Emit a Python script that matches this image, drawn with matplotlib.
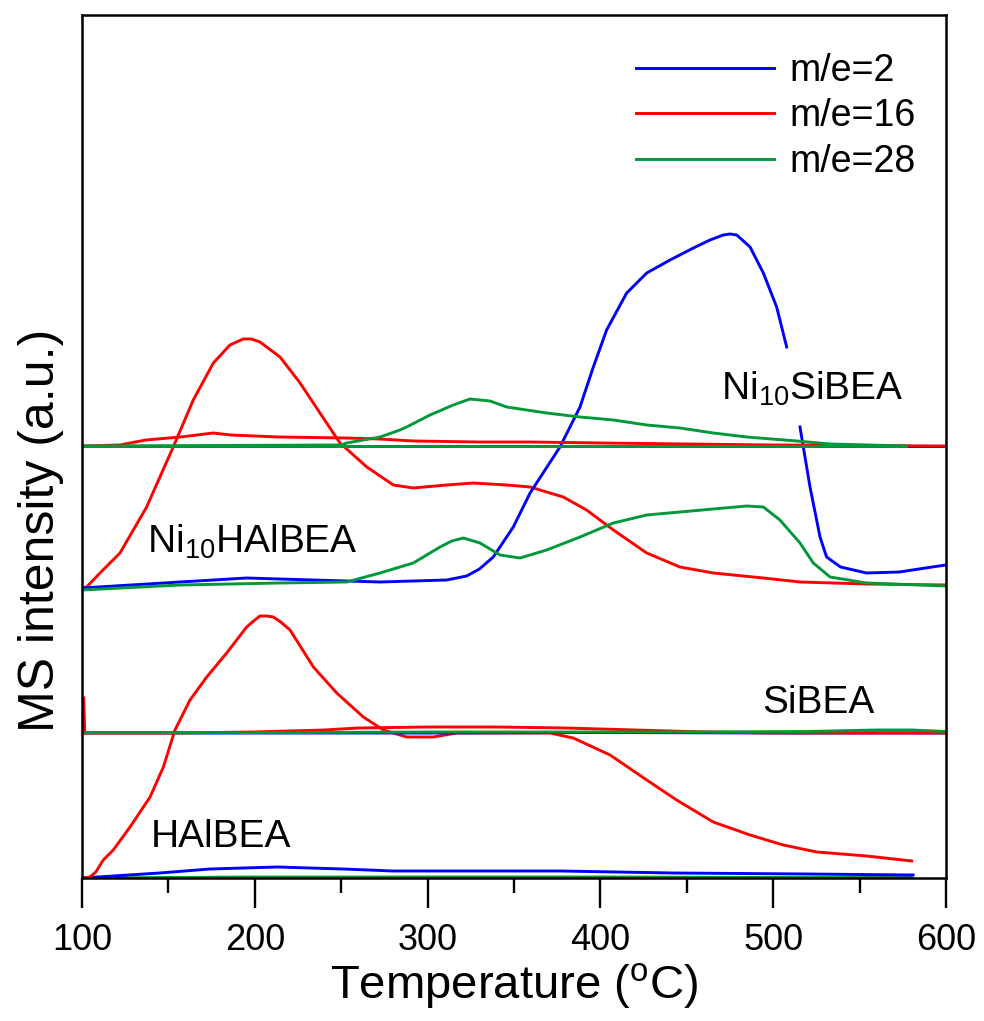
import numpy as np
import matplotlib
matplotlib.use('Agg')
import matplotlib.pyplot as plt
from matplotlib.ticker import MultipleLocator

plt.rcParams['font.family'] = ['Liberation Sans', 'DejaVu Sans']
plt.rcParams['mathtext.fontset'] = 'custom'
plt.rcParams['mathtext.rm'] = 'Liberation Sans'

BLUE = '#0000ff'
RED = '#ff0000'
GREEN = '#00993a'

# vertical offsets of the stacked samples (a.u.)
offsets = {'HAlBEA': 0, 'SiBEA': 145, 'Ni10HAlBEA': 290, 'Ni10SiBEA': 432}

# ---- HAlBEA ----
hal_red_t = [100, 104.6, 108, 112.3, 118.1, 127.8, 139.4, 147.1, 153.8, 162.5, 172.2, 183.7, 195.3, 200, 203,
             207, 210.7, 215, 220.4, 233.9, 247.4, 262.8, 274.4, 287.9, 303.3, 316.8, 340, 370.8, 384.3,
             405.6, 426.8, 444.1, 465.3, 486.6, 505.8, 525.2, 554.1, 580.1]
hal_red_v = [0, 1, 6, 18, 28, 51, 81, 111, 148, 178, 201, 225, 251, 258, 262,
             262, 261, 256, 248, 211, 185, 161, 148, 141, 141, 145, 145, 145, 140,
             123, 98, 78, 56, 43, 33, 26, 22, 17]
hal_blue_t = [100, 145, 174, 213, 251, 280, 377, 442, 519, 581]
hal_blue_v = [0, 5, 9, 11, 9, 7, 7, 5, 4, 3]
hal_green_t = [100, 200, 300, 400, 500, 580]
hal_green_v = [0, 1, 1, 1, 0.5, 0.5]

# ---- SiBEA ----
si_red_t = [101, 101.6, 150, 200, 240, 260, 300, 340, 380, 420, 460, 500, 600]
si_red_v = [35, 0, 0, 1, 3, 5, 6, 6, 5, 3, 1, 0, 0]
si_blue_t = [100, 200, 300, 400, 500, 600]
si_blue_v = [0, 0, 0, 0.5, 0, 0]
si_green_t = [100, 200, 300, 450, 520, 560, 580, 600]
si_green_v = [0.3, 0.3, 1, 1, 1.5, 3, 3, 1.5]

# ---- Ni10HAlBEA ----
nh_red_t = [100, 102.7, 110.4, 122, 137.4, 152.8, 164.4, 176, 185.6, 193.3, 198, 203, 214.6, 226.2, 237.7,
            249.3, 264.8, 280.2, 291.7, 311, 326.4, 345.8, 359.3, 378.5, 392, 407.5, 426.8, 446,
            465.3, 494.3, 515.5, 554.1, 600]
nh_red_v = [0, 1, 15, 35, 81, 141, 188, 225, 243, 249, 249, 246, 231, 205, 175,
            145, 121, 103, 100, 103, 105, 103, 101, 91, 78, 58, 35, 21,
            15, 10, 6, 4, 3]
nh_blue_t = [100, 156.7, 195.3, 233.9, 272.5, 311, 322.6, 330, 338, 349.6, 359.3, 376.6, 388.2, 395.9,
             403.6, 415.2, 426.8, 440.3, 453.8, 463.4, 471.1, 475, 478.9, 486.6, 494.3, 502, 507.8, np.nan,
             515.5, 521.3, 527.1, 530.9, 539, 554, 573, 592, 600]
nh_blue_v = [0, 6, 10, 8, 6, 8, 12, 19, 31, 61, 95, 141, 181, 221,
             258, 295, 315, 328, 340, 348, 353, 354, 353, 341, 315, 281, 241, np.nan,
             161, 101, 51, 31, 21, 15, 16, 21, 23]
nh_green_t = [100, 156.7, 214.6, 253.2, 272.5, 291.7, 307.2, 314, 320.7, 330.3, 341.9, 353.5, 368.9, 388.2,
              407.5, 426.8, 446, 465.3, 484.7, 494.3, 503.9, 515.5, 523.2, 532.9, 554.1, 600]
nh_green_v = [-2, 3, 5, 6, 15, 25, 41, 47, 50, 45, 33, 30, 38, 51,
              65, 73, 76, 79, 82, 81, 68, 45, 25, 11, 5, 2]

# ---- Ni10SiBEA ----
ns_red_t = [100, 122, 137, 157, 176, 186, 214, 253, 272, 292, 330, 359, 400, 450, 500, 600]
ns_red_v = [0, 1, 6, 9, 13, 11, 9, 8, 7, 5, 4, 4, 3, 2, 1, 0]
ns_blue_t = [100, 200, 300, 400, 500, 600]
ns_blue_v = [0, 0, 0, 0, 0, 0]
ns_green_t = [100, 250, 253.2, 272.5, 284, 287.9, 301.4, 314.9, 324.5, 336.1, 345.8, 368.9, 388.2, 407.5,
              426.8, 446, 465.3, 484.7, 513.6, 532.9, 577]
ns_green_v = [0, 1, 3, 9, 16, 19, 31, 41, 47, 45, 39, 33, 29, 26,
              21, 18, 13, 9, 5, 2, 0]
ns_green_base_t = [100, 577]
ns_green_base_v = [0.3, 0.3]


def shifted(values, sample):
    return np.array(values, dtype=float) + offsets[sample]


def main():
    fig = plt.figure(figsize=(9.84, 10.21), dpi=100)
    ax = fig.add_axes([82 / 984, 143 / 1021, 864 / 984, 863 / 1021])
    lw = 2.1

    # HAlBEA
    ax.plot(hal_green_t, shifted(hal_green_v, 'HAlBEA'), color=GREEN, lw=lw)
    ax.plot(hal_blue_t, shifted(hal_blue_v, 'HAlBEA'), color=BLUE, lw=lw)
    ax.plot(hal_red_t, shifted(hal_red_v, 'HAlBEA'), color=RED, lw=lw)
    # SiBEA
    ax.plot(si_blue_t, shifted(si_blue_v, 'SiBEA'), color=BLUE, lw=lw)
    ax.plot(si_red_t, shifted(si_red_v, 'SiBEA'), color=RED, lw=lw)
    ax.plot(si_green_t, shifted(si_green_v, 'SiBEA'), color=GREEN, lw=lw)
    # Ni10HAlBEA
    ax.plot(nh_red_t, shifted(nh_red_v, 'Ni10HAlBEA'), color=RED, lw=lw)
    ax.plot(nh_blue_t, shifted(nh_blue_v, 'Ni10HAlBEA'), color=BLUE, lw=lw)
    ax.plot(nh_green_t, shifted(nh_green_v, 'Ni10HAlBEA'), color=GREEN, lw=lw)
    # Ni10SiBEA
    ax.plot(ns_blue_t, shifted(ns_blue_v, 'Ni10SiBEA'), color=BLUE, lw=lw)
    ax.plot(ns_red_t, shifted(ns_red_v, 'Ni10SiBEA'), color=RED, lw=lw)
    ax.plot(ns_green_base_t, shifted(ns_green_base_v, 'Ni10SiBEA'), color=GREEN, lw=lw)
    ax.plot(ns_green_t, shifted(ns_green_v, 'Ni10SiBEA'), color=GREEN, lw=lw)

    # legend handles
    h1, = ax.plot([], [], color=BLUE, lw=lw, label='m/e=2')
    h2, = ax.plot([], [], color=RED, lw=lw, label='m/e=16')
    h3, = ax.plot([], [], color=GREEN, lw=lw, label='m/e=28')
    ax.legend(handles=[h1, h2, h3], loc='upper left', bbox_to_anchor=(0.641, 0.956),
              frameon=False, fontsize=27, handlelength=3.68, handletextpad=0.43,
              labelspacing=0.25, borderpad=0, borderaxespad=0)

    ax.text(139.9, 31, 'HAlBEA', fontsize=28, ha='left', va='baseline')
    ax.text(493.5, 165, 'SiBEA', fontsize=28, ha='left', va='baseline')
    ax.text(137.6, 325, r'Ni$_\mathregular{10}$HAlBEA', fontsize=28, ha='left', va='baseline')
    ax.text(469.8, 478, r'Ni$_\mathregular{10}$SiBEA', fontsize=28, ha='left', va='baseline')

    ax.set_xlim(100, 600)
    ax.set_ylim(0, 863)
    ax.xaxis.set_major_locator(MultipleLocator(100))
    ax.xaxis.set_minor_locator(MultipleLocator(50))
    ax.set_yticks([])
    ax.tick_params(axis='x', which='major', direction='out', length=21.6, width=1.7,
                   labelsize=26, pad=11)
    ax.tick_params(axis='x', which='minor', direction='out', length=10.8, width=1.7)
    for s in ax.spines.values():
        s.set_linewidth(1.8)

    ax.set_xlabel(r'Temperature ($^\mathregular{o}$C)', fontsize=34, labelpad=2)
    ax.set_ylabel('MS intensity (a.u.)', fontsize=36)
    ax.yaxis.set_label_coords(-0.021, 0.403)

    fig.savefig('out.png', dpi=100)
    plt.close(fig)


if __name__ == '__main__':
    main()
